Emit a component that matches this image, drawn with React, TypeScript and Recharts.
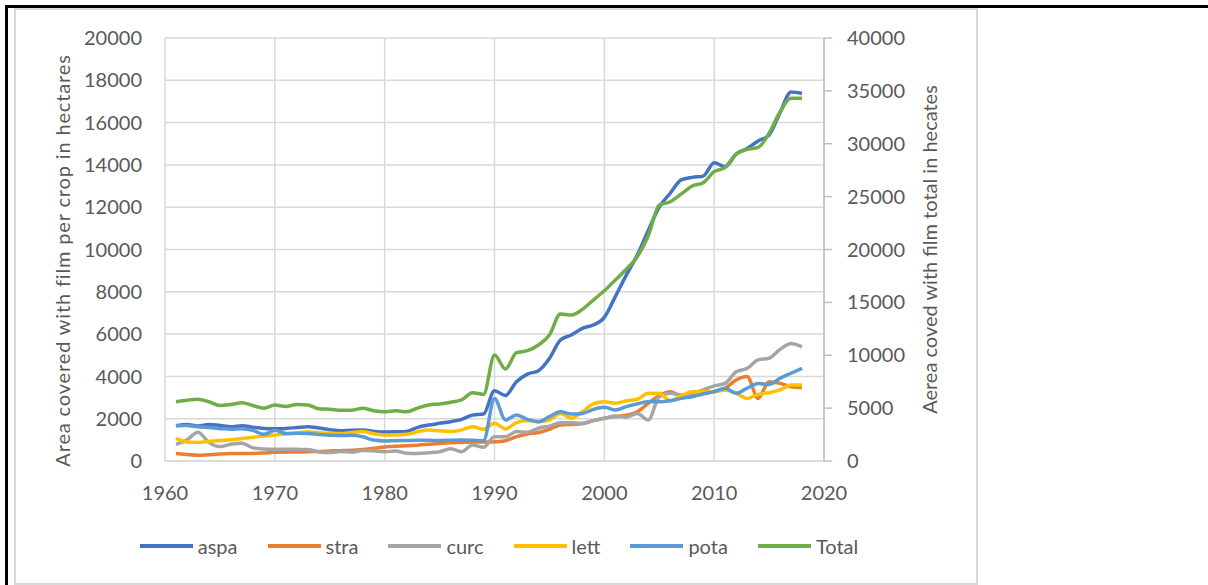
import React from 'react';
import { LineChart, Line, XAxis, YAxis, CartesianGrid, Legend } from 'recharts';

const years = [
  1961, 1962, 1963, 1964, 1965, 1966, 1967, 1968, 1969, 1970,
  1971, 1972, 1973, 1974, 1975, 1976, 1977, 1978, 1979, 1980,
  1981, 1982, 1983, 1984, 1985, 1986, 1987, 1988, 1989, 1990,
  1991, 1992, 1993, 1994, 1995, 1996, 1997, 1998, 1999, 2000,
  2001, 2002, 2003, 2004, 2005, 2006, 2007, 2008, 2009, 2010,
  2011, 2012, 2013, 2014, 2015, 2016, 2017, 2018,
];

const aspa = [
  1670, 1730, 1650, 1730, 1680, 1620, 1670, 1600, 1540, 1520,
  1540, 1580, 1620, 1560, 1480, 1430, 1450, 1460, 1400, 1370,
  1380, 1400, 1590, 1700, 1780, 1860, 1970, 2170, 2220, 3320,
  3100, 3750, 4110, 4270, 4850, 5720, 5960, 6270, 6430, 6790,
  7770, 8790, 9740, 10900, 12000, 12660, 13290, 13410, 13470, 14100,
  13910, 14510, 14780, 15130, 15410, 16470, 17450, 17380,
];

const stra = [
  350, 310, 270, 300, 330, 350, 360, 360, 380, 410,
  420, 420, 440, 450, 470, 490, 510, 540, 600, 660,
  700, 720, 750, 790, 830, 860, 880, 900, 900, 910,
  960, 1150, 1280, 1350, 1500, 1700, 1730, 1760, 1910, 2020,
  2100, 2160, 2330, 2730, 3100, 3280, 3070, 3120, 3200, 3280,
  3440, 3830, 3990, 2960, 3750, 3670, 3510, 3470,
];

const curc = [
  790, 1000, 1360, 880, 680, 790, 840, 620, 570, 560,
  560, 550, 540, 430, 400, 450, 420, 500, 480, 440,
  470, 370, 360, 390, 440, 580, 440, 760, 650, 1150,
  1150, 1390, 1360, 1550, 1650, 1810, 1810, 1780, 1910, 2020,
  2130, 2070, 2250, 1940, 3040, 3200, 3120, 3200, 3360, 3550,
  3670, 4220, 4380, 4780, 4860, 5280, 5560, 5400,
];

const lett = [
  1070, 900, 880, 920, 970, 1000, 1060, 1120, 1180, 1230,
  1280, 1320, 1380, 1340, 1310, 1300, 1350, 1390, 1290, 1230,
  1240, 1260, 1390, 1470, 1430, 1390, 1470, 1620, 1500, 1780,
  1520, 1810, 1910, 1860, 1940, 2250, 2020, 2330, 2700, 2800,
  2730, 2850, 2920, 3200, 3200, 2850, 3080, 3280, 3280, 3280,
  3360, 3200, 2960, 3150, 3230, 3360, 3590, 3590,
];

const pota = [
  1670, 1680, 1620, 1580, 1530, 1500, 1530, 1450, 1260, 1450,
  1300, 1310, 1300, 1250, 1220, 1200, 1220, 1150, 990, 950,
  960, 970, 980, 980, 970, 980, 990, 980, 960, 2950,
  1940, 2170, 1970, 1860, 2100, 2330, 2220, 2250, 2440, 2540,
  2410, 2570, 2700, 2800, 2800, 2850, 2960, 3040, 3170, 3280,
  3440, 3200, 3440, 3670, 3620, 3910, 4150, 4380,
];

const total = [
  5600, 5750, 5850, 5600, 5250, 5350, 5500, 5250, 5000, 5300,
  5150, 5350, 5300, 4950, 4900, 4800, 4800, 5000, 4750, 4660,
  4760, 4660, 5000, 5300, 5390, 5550, 5770, 6460, 6300, 10020,
  8700, 10240, 10430, 10970, 11910, 13900, 13800, 14340, 15220, 16100,
  17110, 18130, 19320, 21300, 24200, 24520, 25250, 26000, 26320, 27360,
  27770, 29030, 29470, 29660, 30990, 33030, 34300, 34300,
];

const xTicks = [1960, 1970, 1980, 1990, 2000, 2010, 2020];
const leftTicks = [0, 2000, 4000, 6000, 8000, 10000, 12000, 14000, 16000, 18000, 20000];
const rightTicks = [0, 5000, 10000, 15000, 20000, 25000, 30000, 35000, 40000];

const data = years.map((year, i) => ({
  year,
  aspa: aspa[i],
  stra: stra[i],
  curc: curc[i],
  lett: lett[i],
  pota: pota[i],
  Total: total[i],
}));

const FONT = 'Lato, "Open Sans", sans-serif';
const TEXT = '#595959';
const GRID = '#d9d9d9';

const series = [
  { key: 'aspa', color: '#4472C4', axis: 'left' },
  { key: 'stra', color: '#ED7D31', axis: 'left' },
  { key: 'curc', color: '#A5A5A5', axis: 'left' },
  { key: 'lett', color: '#FFC000', axis: 'left' },
  { key: 'pota', color: '#5B9BD5', axis: 'left' },
  { key: 'Total', color: '#70AD47', axis: 'right' },
];

// legend in series order (recharts sorts by name otherwise)
function LegendContent(props: any) {
  const payload = props.payload || [];
  const items = series
    .map((s) => payload.find((p: any) => p.dataKey === s.key || p.value === s.key))
    .filter(Boolean);
  return (
    <div style={{ display: 'flex', justifyContent: 'center', alignItems: 'center', height: 28 }}>
      {items.map((p: any, i: number) => (
        <div
          key={p.value}
          style={{ display: 'flex', alignItems: 'center', marginRight: i === items.length - 1 ? 0 : 30 }}
        >
          <svg width={53} height={8}>
            <line x1={0} y1={4} x2={53} y2={4} stroke={p.color} strokeWidth={4} strokeLinecap="round" />
          </svg>
          <span style={{ marginLeft: 5, fontFamily: FONT, fontSize: 20, color: TEXT }}>{p.value}</span>
        </div>
      ))}
    </div>
  );
}

export default function App() {
  return (
    <div style={{ position: 'absolute', left: 0, top: 0, width: 1208, height: 585, overflow: 'hidden', background: '#fff' }}>
      <div style={{ position: 'absolute', left: 0, top: 0 }}>
        <LineChart width={1208} height={585} data={data} margin={{ top: 38, right: 264, bottom: 20, left: 30 }}>
          <CartesianGrid yAxisId="left" stroke={GRID} strokeWidth={1.5} />
          <XAxis
            dataKey="year"
            type="number"
            domain={[1960, 2020]}
            ticks={xTicks}
            height={76}
            tickLine={false}
            axisLine={{ stroke: GRID, strokeWidth: 1.5 }}
            tickMargin={19}
            tick={{ fill: TEXT, fontSize: 20, fontFamily: FONT }}
          />
          <YAxis
            yAxisId="left"
            domain={[0, 20000]}
            ticks={leftTicks}
            width={135}
            axisLine={false}
            tickLine={false}
            tickMargin={17}
            tick={{ fill: TEXT, fontSize: 20, fontFamily: FONT }}
            label={{
              value: 'Area covered with film per crop in hectares',
              angle: -90,
              position: 'center',
              dx: -35,
              dy: 11,
              style: { fill: TEXT, fontSize: 20, fontFamily: FONT, letterSpacing: 0.85 },
            }}
          />
          <YAxis
            yAxisId="right"
            orientation="right"
            domain={[0, 40000]}
            ticks={rightTicks}
            width={120}
            axisLine={{ stroke: '#bfbfbf', strokeWidth: 1.5 }}
            tickLine={{ stroke: '#bfbfbf', strokeWidth: 1.5 }}
            tickSize={8}
            tickMargin={15}
            tick={{ fill: TEXT, fontSize: 20, fontFamily: FONT }}
            label={{
              value: 'Aerea coved with film total in hecates',
              angle: -90,
              position: 'center',
              dx: 46,
              style: { fill: TEXT, fontSize: 20, fontFamily: FONT },
            }}
          />
          <Legend
            content={<LegendContent />}
            wrapperStyle={{ left: 0, top: 532, width: 998, height: 28 }}
          />
          {series.map((s) => (
            <Line
              key={s.key}
              yAxisId={s.axis}
              type="monotone"
              dataKey={s.key}
              stroke={s.color}
              strokeWidth={3.5}
              dot={false}
              activeDot={false}
              isAnimationActive={false}
            />
          ))}
        </LineChart>
      </div>
      {/* frames drawn on top */}
      <div
        style={{
          position: 'absolute',
          left: 5,
          top: 5,
          width: 1210,
          height: 590,
          borderTop: '3px solid #000',
          borderLeft: '3px solid #000',
          boxSizing: 'border-box',
          zIndex: 5,
          pointerEvents: 'none',
        }}
      />
      <div
        style={{
          position: 'absolute',
          left: 14,
          top: 8,
          width: 960,
          height: 573,
          border: `2px solid ${GRID}`,
          zIndex: 4,
          pointerEvents: 'none',
        }}
      />
    </div>
  );
}
